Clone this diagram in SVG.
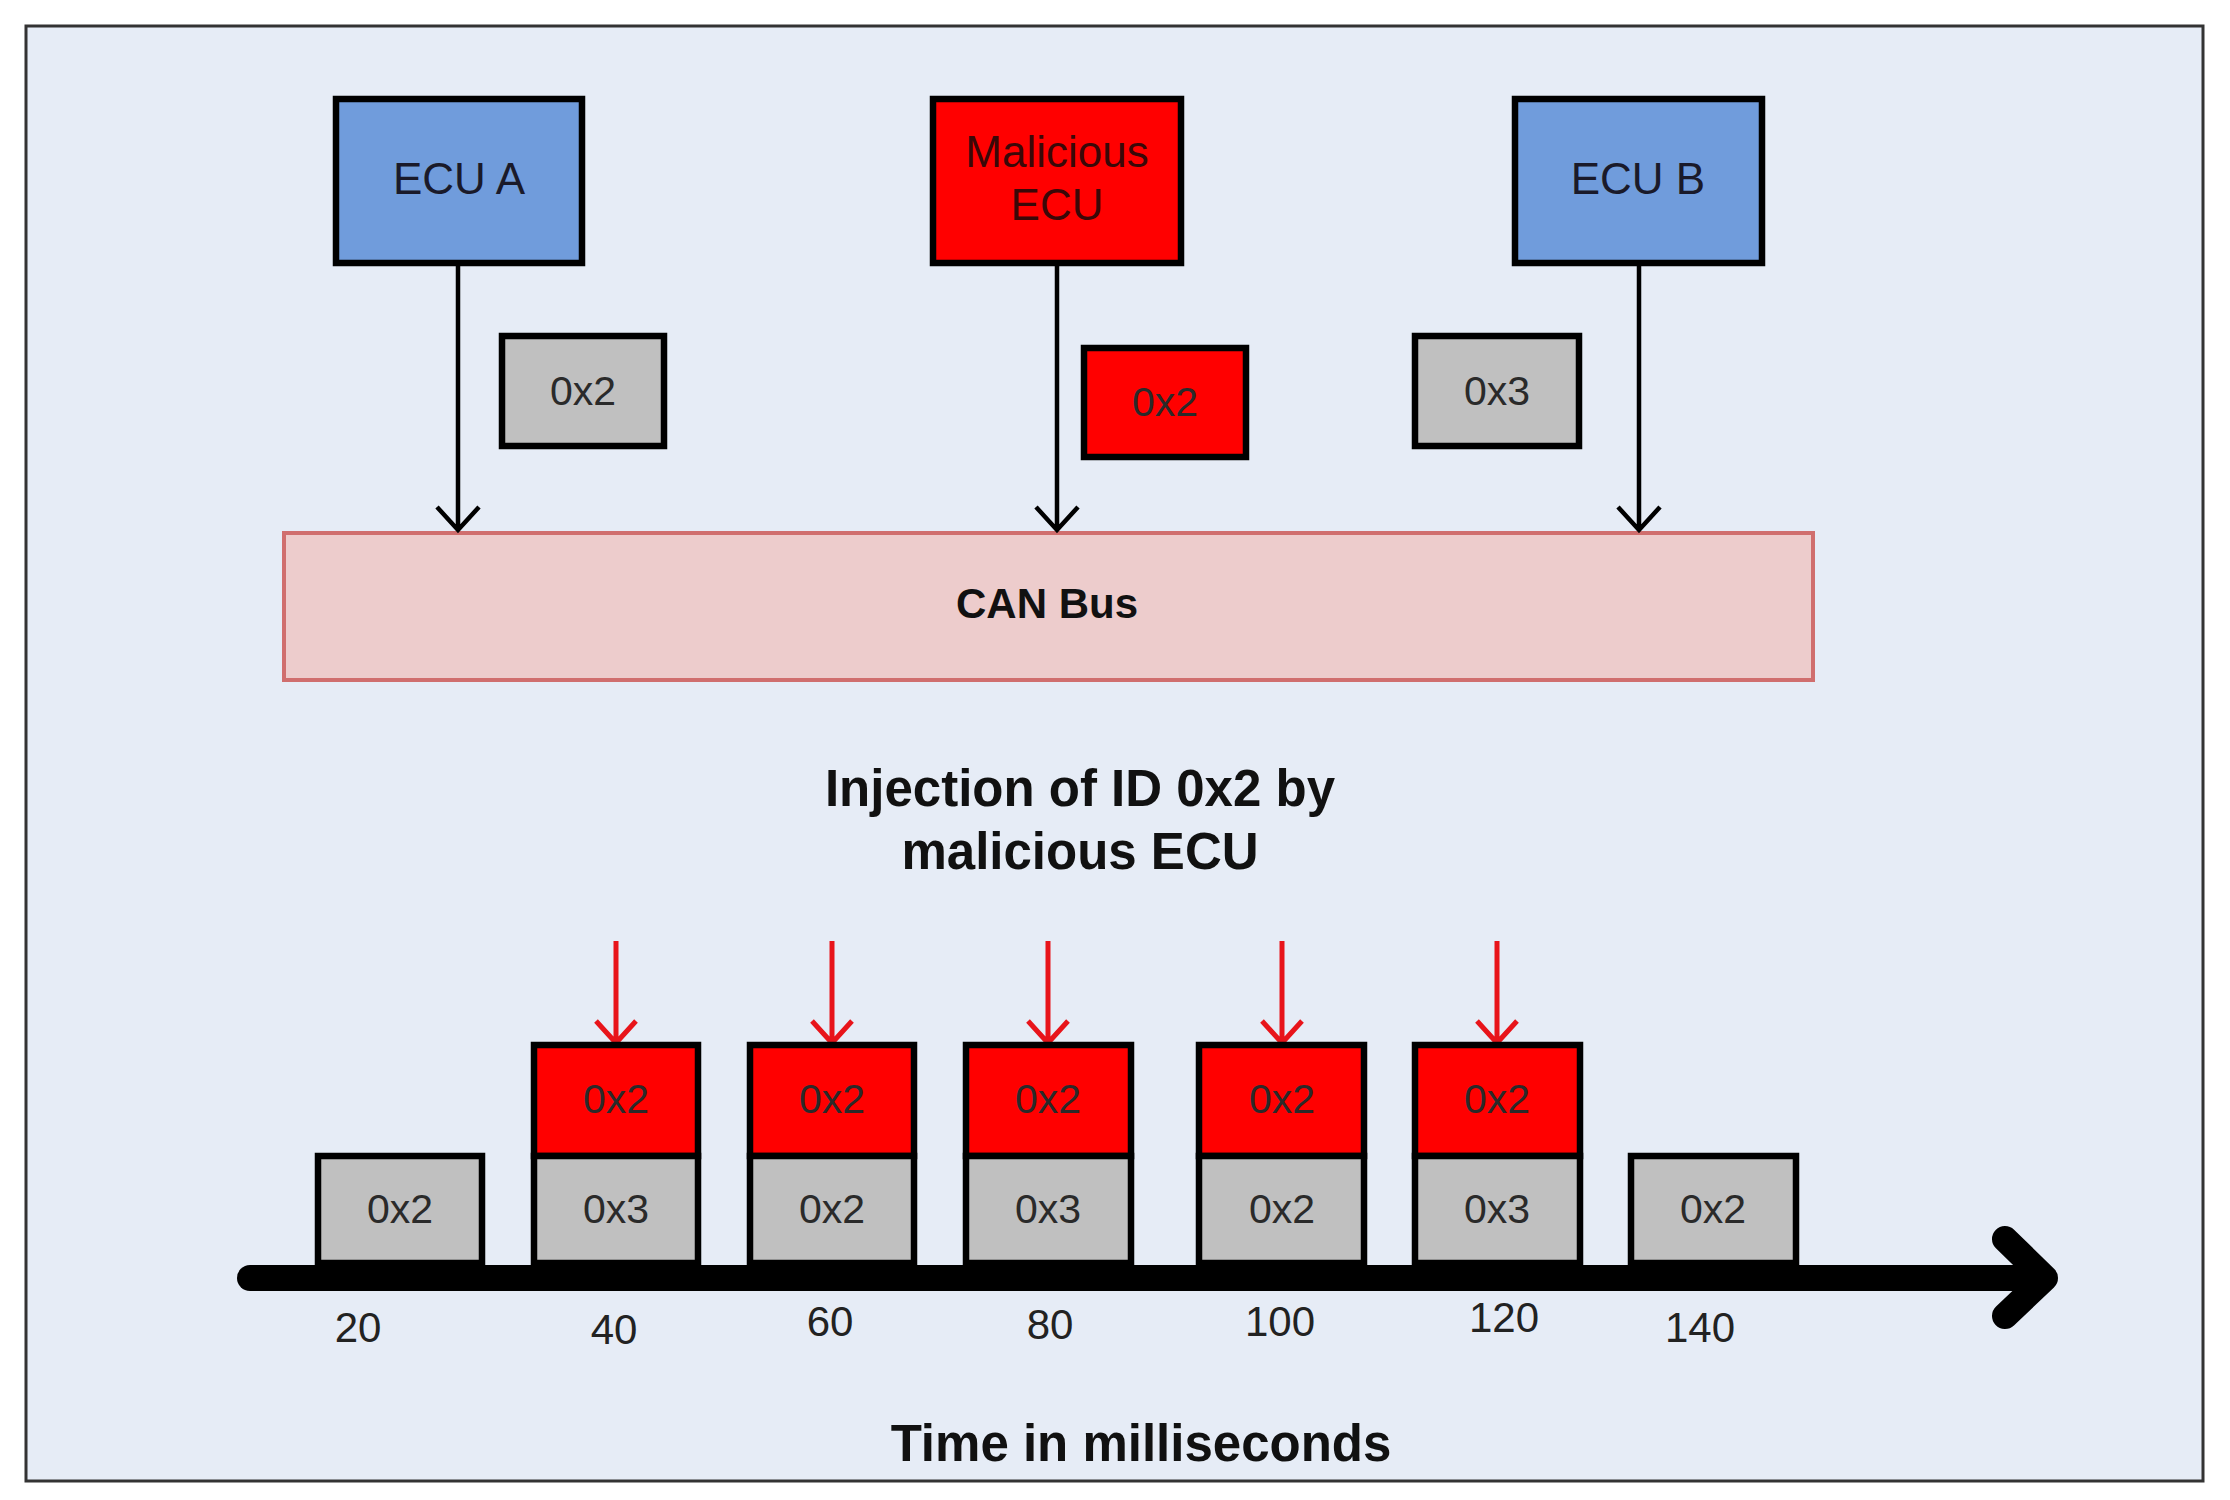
<svg xmlns="http://www.w3.org/2000/svg" width="2230" height="1500" viewBox="0 0 2230 1500">
<defs>
<style>
.box{stroke:#000;stroke-width:6.5}
.blue{fill:#709cdc}
.red{fill:#ff0000}
.gray{fill:#c0c0c0}
.t{font-family:"Liberation Sans",Arial,sans-serif;text-anchor:middle}
.lbl{font-size:44px;fill:#1a1a2a}
.rl{fill:#3a0808}
.id{font-size:41px;fill:#2a2a2a}
.num{font-size:42px;fill:#222}
.bold{font-weight:bold;fill:#111}
.conn{stroke:#000;stroke-width:4.5;fill:none}
.rconn{stroke:#e8141a;stroke-width:5;fill:none}
</style>
</defs>
<rect x="0" y="0" width="2230" height="1500" fill="#ffffff"/>
<rect id="frame" x="26" y="26" width="2177" height="1455" fill="#e6ecf6" stroke="#333" stroke-width="3"/>

<g id="can-bus">
<rect x="284" y="533" width="1529" height="147" fill="#edcccc" stroke="#d06e6e" stroke-width="4"/>
<text class="t bold" x="1047" y="618" font-size="42">CAN Bus</text>
</g>

<g id="ecu-a">
<rect class="box blue" x="336" y="99" width="246" height="164"/>
<text class="t lbl" x="459" y="194">ECU A</text>
</g>
<g id="malicious-ecu">
<rect class="box red" x="933" y="99" width="248" height="164"/>
<text class="t lbl rl" x="1057" y="167" font-size="42">Malicious</text>
<text class="t lbl rl" x="1057" y="220" font-size="42">ECU</text>
</g>
<g id="ecu-b">
<rect class="box blue" x="1515" y="99" width="247" height="164"/>
<text class="t lbl" x="1638" y="194">ECU B</text>
</g>

<g id="msg-a">
<rect class="box gray" x="502" y="336" width="162" height="110"/>
<text class="t id" x="583" y="405">0x2</text>
</g>
<g id="msg-m">
<rect class="box red" x="1084" y="348" width="162" height="109"/>
<text class="t id rl" x="1165" y="416">0x2</text>
</g>
<g id="msg-b">
<rect class="box gray" x="1415" y="336" width="164" height="110"/>
<text class="t id" x="1497" y="405">0x3</text>
</g>

<g id="connectors">
<path class="conn" d="M458 266 V530 M437 507 L458 530 L479 507"/>
<path class="conn" d="M1057 266 V530 M1036 507 L1057 530 L1078 507"/>
<path class="conn" d="M1639 266 V530 M1618 507 L1639 530 L1660 507"/>
<path class="rconn" d="M616 941 V1043 M596 1021 L616 1043 L636 1021"/>
<path class="rconn" d="M832 941 V1043 M812 1021 L832 1043 L852 1021"/>
<path class="rconn" d="M1048 941 V1043 M1028 1021 L1048 1043 L1068 1021"/>
<path class="rconn" d="M1282 941 V1043 M1262 1021 L1282 1043 L1302 1021"/>
<path class="rconn" d="M1497 941 V1043 M1477 1021 L1497 1043 L1517 1021"/>
</g>

<g id="title">
<text class="t bold" x="1080" y="806" font-size="51">Injection of ID 0x2 by</text>
<text class="t bold" x="1080" y="869" font-size="51">malicious ECU</text>
</g>

<g id="timeline-frames">
<rect class="box gray" x="318" y="1156" width="164" height="107"/>
<text class="t id" x="400" y="1223">0x2</text>

<rect class="box red" x="534" y="1045" width="164" height="111"/>
<text class="t id rl" x="616" y="1113">0x2</text>
<rect class="box gray" x="534" y="1156" width="164" height="107"/>
<text class="t id" x="616" y="1223">0x3</text>

<rect class="box red" x="750" y="1045" width="164" height="111"/>
<text class="t id rl" x="832" y="1113">0x2</text>
<rect class="box gray" x="750" y="1156" width="164" height="107"/>
<text class="t id" x="832" y="1223">0x2</text>

<rect class="box red" x="966" y="1045" width="165" height="111"/>
<text class="t id rl" x="1048" y="1113">0x2</text>
<rect class="box gray" x="966" y="1156" width="165" height="107"/>
<text class="t id" x="1048" y="1223">0x3</text>

<rect class="box red" x="1199" y="1045" width="165" height="111"/>
<text class="t id rl" x="1282" y="1113">0x2</text>
<rect class="box gray" x="1199" y="1156" width="165" height="107"/>
<text class="t id" x="1282" y="1223">0x2</text>

<rect class="box red" x="1415" y="1045" width="165" height="111"/>
<text class="t id rl" x="1497" y="1113">0x2</text>
<rect class="box gray" x="1415" y="1156" width="165" height="107"/>
<text class="t id" x="1497" y="1223">0x3</text>

<rect class="box gray" x="1631" y="1156" width="165" height="107"/>
<text class="t id" x="1713" y="1223">0x2</text>
</g>

<g id="time-axis">
<path d="M250 1278 H2040" stroke="#000" stroke-width="26" stroke-linecap="round" fill="none"/>
<path d="M2005 1239 L2045 1278 L2005 1316" stroke="#000" stroke-width="26" stroke-linecap="round" stroke-linejoin="round" fill="none"/>
<text class="t num" x="358" y="1342">20</text>
<text class="t num" x="614" y="1344">40</text>
<text class="t num" x="830" y="1336">60</text>
<text class="t num" x="1050" y="1339">80</text>
<text class="t num" x="1280" y="1336">100</text>
<text class="t num" x="1504" y="1332">120</text>
<text class="t num" x="1700" y="1342">140</text>
<text class="t bold" x="1141" y="1461" font-size="51">Time in milliseconds</text>
</g>
</svg>
